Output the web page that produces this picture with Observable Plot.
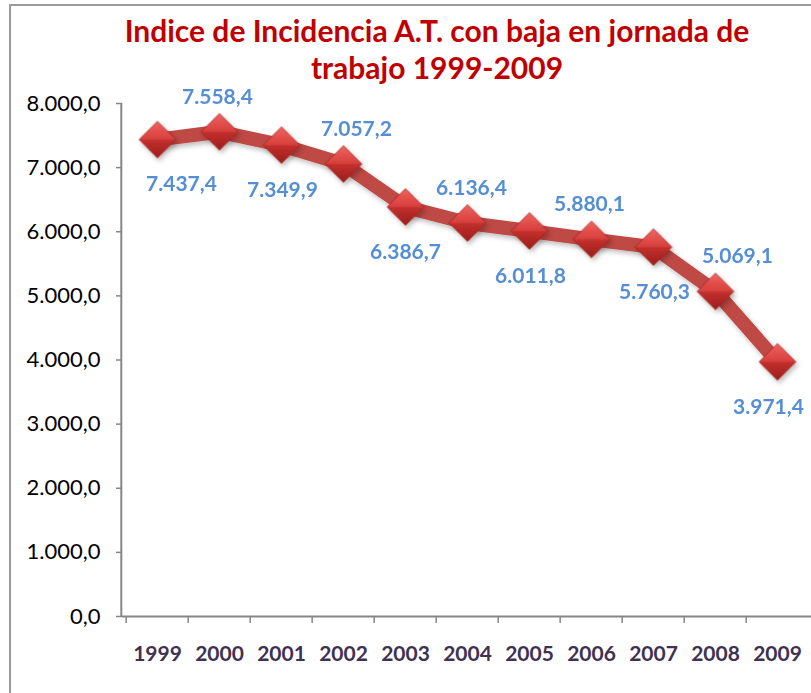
<!DOCTYPE html>
<html>
<head>
<meta charset="utf-8">
<script src="https://cdn.jsdelivr.net/npm/d3@7"></script>
<script src="https://cdn.jsdelivr.net/npm/@observablehq/plot@0.6"></script>
<style>
  html, body { margin: 0; padding: 0; background: #fff; overflow: hidden; width: 811px; height: 693px; }
  #frame { position: absolute; left: 9px; top: 4px; width: 1000px; height: 1000px; border-left: 2.5px solid #9a9a9a; border-top: 2.5px solid #9a9a9a; }
  #title { position: absolute; left: 37px; width: 800px; top: 12px; text-align: center; font-family: Lato, "Open Sans", sans-serif; font-weight: bold; font-size: 30px; line-height: 37px; color: #C00000; }
  #chart { position: absolute; left: 0; top: 0; }
</style>
</head>
<body>
<div id="frame"></div>
<div id="title">Indice de Incidencia A.T. con baja en jornada de<br>trabajo 1999-2009</div>
<div id="chart"></div>
<script>
const years = ["1999","2000","2001","2002","2003","2004","2005","2006","2007","2008","2009"];
const values = [7437.4, 7558.4, 7349.9, 7057.2, 6386.7, 6136.4, 6011.8, 5880.1, 5760.3, 5069.1, 3971.4];
const labelSide = ["below","above","below","above","below","above","below","above","below","above","below"];
const labelDx = [24, -2, 1, 13, 0, 4, 1, -2, 1, 22, -9];
const yTicks = [0, 1000, 2000, 3000, 4000, 5000, 6000, 7000, 8000];

const data = years.map((y, i) => ({year: y, value: values[i], side: labelSide[i], dx: labelDx[i]}));
const es = d3.formatLocale({decimal: ",", thousands: ".", grouping: [3], currency: ["", "€"]});
const fmt = es.format(",.1f");

const W = 811, H = 693;
const x0 = 122.3, bw = 62.67;
const labelMarks = data.map(d => Plot.text([d], {
  x: "year", y: "value", text: e => fmt(e.value),
  dy: d.side === "above" ? -35 : 45, dx: d.dx,
  fill: "#558ED5", fontSize: 21, fontWeight: "bold", fontFamily: "Lato, sans-serif", textAnchor: "middle"
}));

const chart = Plot.plot({
  width: W, height: H,
  marginLeft: 122, marginRight: 0, marginTop: 103, marginBottom: 77,
  style: {background: "transparent", overflow: "visible"},
  x: {type: "band", domain: years, range: [x0, x0 + bw * years.length], padding: 0, label: null},
  y: {domain: [0, 8000], range: [616, 103], label: null},
  marks: [
    Plot.axisY(yTicks, {tickSize: 6, tickPadding: 16, tickFormat: fmt, fontSize: 22, fontFamily: "Lato, sans-serif", fill: "#000", stroke: "#868686", strokeWidth: 1.5}),
    Plot.axisX({tickSize: 0, tickPadding: 30, fontSize: 21, fontWeight: "bold", fontFamily: "Lato, sans-serif", fill: "#403152"}),
    Plot.axisX({tickSize: 7, tickFormat: () => "", dx: -bw / 2, stroke: "#868686", strokeWidth: 1.5}),
    Plot.ruleY([0], {stroke: "#868686", strokeWidth: 2}),
    Plot.line(data, {x: "year", y: "value", stroke: "#BF4845", strokeWidth: 14, strokeLinejoin: "round"}),
    Plot.dot(data, {x: "year", y: "value", symbol: "diamond2", r: 16.6, fill: "url(#dgrad)", stroke: "#8E1B19", strokeWidth: 0.6}),
    ...labelMarks
  ]
});

const svg = d3.select(chart);
const defs = svg.insert("defs", ":first-child");
const g = defs.append("linearGradient").attr("id", "dgrad").attr("x1", 0).attr("y1", 0).attr("x2", 0).attr("y2", 1);
[["0%", "#F06461"], ["48%", "#D8403D"], ["52%", "#C2302D"], ["100%", "#9C1D1B"]].forEach(([o, c]) => g.append("stop").attr("offset", o).attr("stop-color", c));
const f = defs.append("filter").attr("id", "shadow").attr("x", "-30%").attr("y", "-30%").attr("width", "160%").attr("height", "160%");
f.append("feDropShadow").attr("dx", 2).attr("dy", 3).attr("stdDeviation", 2.5).attr("flood-color", "#000").attr("flood-opacity", 0.25);
svg.selectAll('g[aria-label="line"], g[aria-label="dot"]').attr("filter", "url(#shadow)");

// y axis line
const ys = chart.scale("y");
svg.append("line").attr("x1", x0 - 1).attr("x2", x0 - 1).attr("y1", ys.apply(0)).attr("y2", ys.apply(8000))
  .attr("stroke", "#868686").attr("stroke-width", 2);

document.getElementById("chart").appendChild(chart);
</script>
</body>
</html>
